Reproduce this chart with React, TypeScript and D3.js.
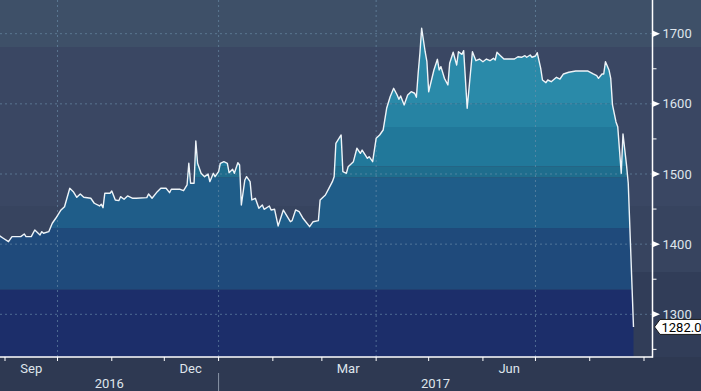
import React from "react";
import * as d3 from "d3";

// ---- data ----
const dates: string[] = [
  "2016-08-29","2016-08-31","2016-09-03","2016-09-05","2016-09-10","2016-09-12","2016-09-13","2016-09-16","2016-09-18","2016-09-21",
  "2016-09-22","2016-09-23","2016-09-26","2016-09-28","2016-09-30","2016-10-03","2016-10-05","2016-10-08","2016-10-10","2016-10-12",
  "2016-10-14","2016-10-16","2016-10-20","2016-10-22","2016-10-25","2016-10-26","2016-10-27","2016-10-28","2016-10-31","2016-11-01",
  "2016-11-03","2016-11-05","2016-11-06","2016-11-08","2016-11-10","2016-11-13","2016-11-15","2016-11-21","2016-11-22","2016-11-24",
  "2016-11-27","2016-11-29","2016-12-02","2016-12-04","2016-12-05","2016-12-10","2016-12-12","2016-12-14","2016-12-15","2016-12-16",
  "2016-12-18","2016-12-19","2016-12-20","2016-12-22","2016-12-24","2016-12-26","2016-12-27","2016-12-29","2016-12-30","2017-01-01",
  "2017-01-02","2017-01-04","2017-01-06","2017-01-07","2017-01-09","2017-01-10","2017-01-12","2017-01-13","2017-01-14","2017-01-16",
  "2017-01-17","2017-01-19","2017-01-20","2017-01-22","2017-01-24","2017-01-26","2017-01-27","2017-01-30","2017-01-31","2017-02-02",
  "2017-02-04","2017-02-07","2017-02-09","2017-02-11","2017-02-12","2017-02-14","2017-02-16","2017-02-18","2017-02-19","2017-02-22",
  "2017-02-24","2017-02-27","2017-02-28","2017-03-03","2017-03-05","2017-03-07","2017-03-08","2017-03-09","2017-03-12","2017-03-13",
  "2017-03-15","2017-03-16","2017-03-19","2017-03-21","2017-03-23","2017-03-24","2017-03-27","2017-03-28","2017-03-30","2017-04-01",
  "2017-04-03","2017-04-05","2017-04-07","2017-04-09","2017-04-11","2017-04-13","2017-04-14","2017-04-15","2017-04-17","2017-04-19",
  "2017-04-21","2017-04-23","2017-04-24","2017-04-25","2017-04-26","2017-04-27","2017-04-29","2017-04-30","2017-05-01","2017-05-04",
  "2017-05-06","2017-05-07","2017-05-08","2017-05-10","2017-05-12","2017-05-13","2017-05-15","2017-05-17","2017-05-18","2017-05-20",
  "2017-05-21","2017-05-23","2017-05-26","2017-05-28","2017-05-30","2017-06-01","2017-06-03","2017-06-05","2017-06-07","2017-06-08",
  "2017-06-09","2017-06-11","2017-06-13","2017-06-19","2017-06-21","2017-06-23","2017-06-25","2017-06-26","2017-06-28","2017-06-29",
  "2017-07-01","2017-07-02","2017-07-04","2017-07-05","2017-07-07","2017-07-08","2017-07-10","2017-07-13","2017-07-15","2017-07-17",
  "2017-07-20","2017-07-24","2017-07-28","2017-07-31","2017-08-03","2017-08-05","2017-08-06","2017-08-08","2017-08-09","2017-08-10",
  "2017-08-12","2017-08-13","2017-08-14","2017-08-16","2017-08-17","2017-08-19","2017-08-20","2017-08-22","2017-08-23","2017-08-26",
];

const values: number[] = [
  1411.7,1408.4,1403.5,1410.7,1410.7,1414.5,1410.7,1410.7,1420.2,1413.1,
  1417.8,1415.5,1417.8,1429.8,1436.9,1448.7,1453.4,1479.6,1474.8,1466.8,
  1471.5,1466.8,1465.4,1458.3,1454.4,1456.8,1452.0,1472.5,1472.5,1475.8,
  1463.0,1462.0,1467.7,1464.0,1468.7,1465.4,1465.4,1466.3,1471.5,1465.4,
  1474.8,1479.6,1479.6,1473.4,1478.2,1478.2,1476.2,1484.4,1515.3,1486.8,
  1486.8,1547.1,1515.3,1501.0,1496.2,1500.0,1489.1,1501.0,1496.2,1503.3,
  1515.3,1517.6,1515.3,1501.9,1506.7,1501.0,1516.1,1512.9,1455.8,1491.5,
  1496.2,1489.1,1463.0,1465.4,1451.1,1455.8,1449.7,1454.4,1448.7,1449.7,
  1425.9,1448.7,1440.2,1432.0,1433.5,1448.7,1446.3,1437.7,1434.5,1424.9,
  1432.0,1433.5,1463.0,1470.1,1479.6,1489.1,1496.2,1543.8,1555.6,1503.3,
  1501.0,1510.4,1517.6,1536.7,1529.5,1534.2,1522.4,1524.7,1517.6,1550.9,
  1555.6,1562.7,1593.7,1610.2,1622.2,1612.6,1606.5,1611.2,1598.4,1612.6,
  1617.3,1615.1,1609.4,1643.6,1672.1,1707.7,1674.3,1660.1,1617.3,1648.3,
  1663.5,1648.3,1653.0,1636.4,1626.9,1657.8,1673.5,1655.4,1674.3,1670.6,
  1675.8,1593.7,1674.3,1661.5,1663.9,1660.1,1663.9,1661.5,1664.9,1662.5,
  1673.5,1668.6,1663.9,1663.9,1667.2,1666.4,1668.6,1666.4,1669.6,1666.4,
  1668.2,1672.9,1650.7,1634.0,1630.2,1634.0,1631.6,1637.9,1635.4,1642.6,
  1645.0,1646.8,1646.8,1646.8,1642.6,1640.1,1636.4,1642.6,1642.6,1660.1,
  1648.3,1636.4,1598.4,1574.2,1567.4,1501.0,1557.0,1512.9,1486.8,1282.0,
];

const yTicks: number[] = [1300, 1400, 1500, 1600, 1700];
const yMinorTicks: number[] = [1250, 1350, 1450, 1550, 1650];
const monthTickDates: string[] = [
  "2016-09-01","2016-10-01","2016-11-01","2016-12-01","2017-01-01","2017-02-01","2017-03-01",
  "2017-04-01","2017-05-01","2017-06-01","2017-07-01","2017-08-01","2017-09-01",
];
const gridDates: string[] = ["2016-10-01", "2017-01-01", "2017-04-01", "2017-07-01"];
const monthLabels: string[] = ["Sep", "Dec", "Mar", "Jun"];
const monthLabelDates: string[] = ["2016-09-16", "2016-12-16", "2017-03-16", "2017-06-16"];
const yearLabels: string[] = ["2016", "2017"];
const yearStart: string = "2017-01-01";
const lastValueLabel = "1282.0";

// ---- styles ----
const W = 701;
const H = 391;
const AXIS_X = 652.5;
const AXIS_Y = 357;
const FONT = "Roboto, 'Noto Sans', sans-serif";
const TEXT = "#dfe5ec";
const fillEdges = [1335, 1423, 1495, 1511, 1567, 1601];
const fillColors = ["#1c2e6a", "#1f4a7b", "#1f5d89", "#1f6d8d", "#21789a", "#2683a3", "#2a8aa9"];

export default function App() {
  const parse = d3.timeParse("%Y-%m-%d");
  const data = dates.map((d, i) => ({ date: parse(d) as Date, value: values[i] }));

  const x = d3
    .scaleTime()
    .domain([parse("2016-09-01") as Date, parse("2017-09-01") as Date])
    .range([5, 644]);
  const y = d3.scaleLinear().domain([1300, 1700]).range([314.3, 33.7]);

  const line = d3
    .line<{ date: Date; value: number }>()
    .x((d) => x(d.date))
    .y((d) => y(d.value));
  const area = d3
    .area<{ date: Date; value: number }>()
    .x((d) => x(d.date))
    .y0(AXIS_Y)
    .y1((d) => y(d.value));

  const bandBounds = [3000, ...fillEdges.slice().reverse(), 0];
  const colorsTopDown = fillColors.slice().reverse();

  const last = data[data.length - 1];
  const lastY = y(last.value);

  const janX = x(parse(yearStart) as Date);
  const startX = 0;

  return (
    <svg
      width={W}
      height={H}
      style={{ position: "fixed", left: 0, top: 0, display: "block" }}
      fontFamily={FONT}
    >
      <defs>
        <clipPath id="areaClip">
          <path d={area(data) || ""} />
        </clipPath>
      </defs>
      {/* background */}
      <rect x={0} y={0} width={W} height={H} fill="#3a4763" />
      <rect x={0} y={0} width={W} height={47} fill="#3e5068" />
      <rect x={0} y={206} width={W} height={66} fill="#37445f" />
      <rect x={0} y={272} width={W} height={AXIS_Y - 272} fill="#313d58" />
      <rect x={0} y={AXIS_Y} width={W} height={H - AXIS_Y} fill="#2e3952" />

      {/* banded area */}
      <g clipPath="url(#areaClip)">
        {colorsTopDown.map((c, i) => {
          const top = y(bandBounds[i]);
          const bot = y(bandBounds[i + 1]);
          return <rect key={i} x={0} y={top} width={AXIS_X} height={bot - top} fill={c} />;
        })}
      </g>

      {/* grid */}
      {yTicks.map((t) => (
        <line
          key={"gy" + t}
          x1={0}
          x2={AXIS_X}
          y1={y(t)}
          y2={y(t)}
          stroke="#6f93ad"
          strokeOpacity={0.6}
          strokeWidth={1}
          strokeDasharray="2,3"
        />
      ))}
      {gridDates.map((d) => {
        const gx = x(parse(d) as Date);
        return (
          <line
            key={"gx" + d}
            x1={gx}
            x2={gx}
            y1={0}
            y2={AXIS_Y}
            stroke="#6f93ad"
            strokeOpacity={0.6}
            strokeWidth={1}
            strokeDasharray="2,3"
          />
        );
      })}

      {/* line */}
      <path d={line(data) || ""} fill="none" stroke="#eef4f8" strokeWidth={1.4} strokeLinejoin="round" />

      {/* x axis */}
      <line x1={startX} x2={AXIS_X} y1={AXIS_Y} y2={AXIS_Y} stroke="#ffffff" strokeWidth={1.5} />
      {monthTickDates.map((d) => {
        const tx = x(parse(d) as Date);
        return <line key={"tx" + d} x1={tx} x2={tx} y1={AXIS_Y} y2={AXIS_Y + 4} stroke="#ffffff" strokeWidth={1} />;
      })}
      {monthLabels.map((m, i) => (
        <text
          key={m}
          x={x(parse(monthLabelDates[i]) as Date)}
          y={372.5}
          fill={TEXT}
          fontSize={13}
          textAnchor="middle"
        >
          {m}
        </text>
      ))}
      <line x1={janX} x2={janX} y1={373} y2={H} stroke="#8a95a8" strokeWidth={1} />
      <text x={(startX + janX) / 2} y={388} fill={TEXT} fontSize={13} textAnchor="middle">
        {yearLabels[0]}
      </text>
      <text x={(janX + AXIS_X) / 2} y={388} fill={TEXT} fontSize={13} textAnchor="middle">
        {yearLabels[1]}
      </text>

      {/* y axis */}
      <line x1={AXIS_X} x2={AXIS_X} y1={0} y2={AXIS_Y + 0.75} stroke="#ffffff" strokeWidth={1.5} />
      {yMinorTicks.map((t) => (
        <line key={"my" + t} x1={AXIS_X} x2={AXIS_X + 4} y1={y(t)} y2={y(t)} stroke="#ffffff" strokeWidth={1} />
      ))}
      {yTicks.map((t) => (
        <g key={"ty" + t}>
          <path
            d={`M${AXIS_X},${y(t) - 3.2}L${AXIS_X + 7.5},${y(t)}L${AXIS_X},${y(t) + 3.2}Z`}
            fill="#ffffff"
          />
          <text x={662.5} y={y(t) + 4.6} fill={TEXT} fontSize={13}>
            {d3.format("d")(t)}
          </text>
        </g>
      ))}

      {/* last value marker */}
      <path
        d={`M${AXIS_X + 2},${lastY}L${AXIS_X + 7.5},${lastY - 7.5}L${W + 2},${lastY - 7.5}L${W + 2},${lastY + 7.5}L${AXIS_X + 7.5},${lastY + 7.5}Z`}
        fill="#ffffff"
        stroke="#1a1a1a"
        strokeWidth={1}
      />
      <text x={661.5} y={lastY + 4.6} fill="#000000" fontSize={13}>
        {lastValueLabel}
      </text>
    </svg>
  );
}
